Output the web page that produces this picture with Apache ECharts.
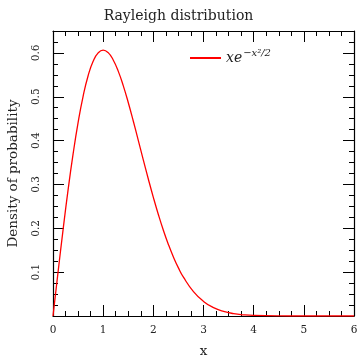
<!DOCTYPE html>
<html>
<head>
<meta charset="utf-8">
<script src="https://cdn.jsdelivr.net/npm/echarts@6/dist/echarts.min.js"></script>
<style>
  html, body { margin: 0; padding: 0; background: #fff; }
  #chart { width: 357px; height: 356px; }
</style>
</head>
<body>
<div id="chart"></div>
<script>
// values
const xValues = [0, 0.1, 0.2, 0.3, 0.4, 0.5, 0.6, 0.7, 0.8, 0.9, 1.0, 1.1, 1.2, 1.3, 1.4, 1.5, 1.6, 1.7, 1.8, 1.9,
  2.0, 2.1, 2.2, 2.3, 2.4, 2.5, 2.6, 2.8, 3.0, 3.2, 3.4, 3.6, 3.8, 4.0, 4.5, 5.0, 5.5, 6.0];
const density = [0, 0.0995, 0.196, 0.287, 0.369, 0.441, 0.501, 0.548, 0.581, 0.600, 0.6065, 0.6006, 0.584, 0.5585,
  0.5254, 0.487, 0.4448, 0.4007, 0.3562, 0.3125, 0.2707, 0.2316, 0.1956, 0.1633, 0.1347, 0.1098, 0.0885, 0.0556,
  0.0333, 0.0191, 0.0105, 0.0055, 0.0028, 0.0013, 0.0002, 0, 0, 0];
const seriesName = 'rayleigh';

const font = 'DejaVu Serif, Liberation Serif, serif';
const axisCommon = {
  axisLine: { show: true, onZero: false, lineStyle: { color: '#000', width: 1.2 } },
  axisTick: { show: true, inside: true, length: 11, lineStyle: { color: '#000' } },
  minorTick: { show: true, splitNumber: 4, length: 5, lineStyle: { color: '#000' } },
  splitLine: { show: false },
};

const chart = echarts.init(document.getElementById('chart'));
chart.setOption({
  animation: false,
  textStyle: { fontFamily: font },
  title: {
    text: 'Rayleigh distribution',
    left: 'center',
    top: 4,
    textStyle: { fontFamily: font, fontSize: 14, fontWeight: 'normal', color: '#222' },
  },
  grid: { left: 53, right: 3, top: 31, bottom: 40, outerBoundsMode: 'none' },
  legend: {
    data: [seriesName],
    left: 185,
    top: 43,
    icon: 'rect',
    itemWidth: 31,
    itemHeight: 2,
    itemGap: 5,
    formatter: () => '{a|xe}{b|−x²/2}',
    textStyle: {
      rich: {
        a: { fontFamily: font, fontStyle: 'italic', fontSize: 14, color: '#222' },
        b: { fontFamily: font, fontStyle: 'italic', fontSize: 10, color: '#222', padding: [0, 0, 10, 1] },
      },
    },
  },
  xAxis: [
    {
      type: 'value', min: 0, max: 6, interval: 1,
      ...axisCommon,
      name: 'x', nameLocation: 'middle', nameGap: 28,
      nameTextStyle: { fontFamily: font, fontSize: 13.5, color: '#222' },
      axisLabel: { fontFamily: font, fontSize: 10.5, color: '#222', margin: 9 },
    },
    {
      type: 'value', min: 0, max: 6, interval: 1, position: 'top',
      ...axisCommon,
      axisLabel: { show: false },
    },
  ],
  yAxis: [
    {
      type: 'value', min: 0, max: 0.65, interval: 0.1,
      ...axisCommon,
      name: 'Density of probability', nameLocation: 'middle', nameGap: 33,
      nameTextStyle: { fontFamily: font, fontSize: 13.5, color: '#222' },
      axisLabel: {
        fontFamily: font, fontSize: 10.5, color: '#222', rotate: 90, margin: 11,
        showMinLabel: false, showMaxLabel: false,
        formatter: (v) => (v > 0.65 ? '' : v.toFixed(1)),
      },
    },
    {
      type: 'value', min: 0, max: 0.65, interval: 0.1, position: 'right',
      ...axisCommon,
      axisLabel: { show: false },
    },
  ],
  series: [
    {
      name: seriesName,
      type: 'line',
      data: xValues.map((x, i) => [x, density[i]]),
      smooth: true,
      symbol: 'none',
      lineStyle: { color: '#ff0000', width: 1.3 },
      itemStyle: { color: '#ff0000' },
    },
  ],
});
</script>
</body>
</html>
